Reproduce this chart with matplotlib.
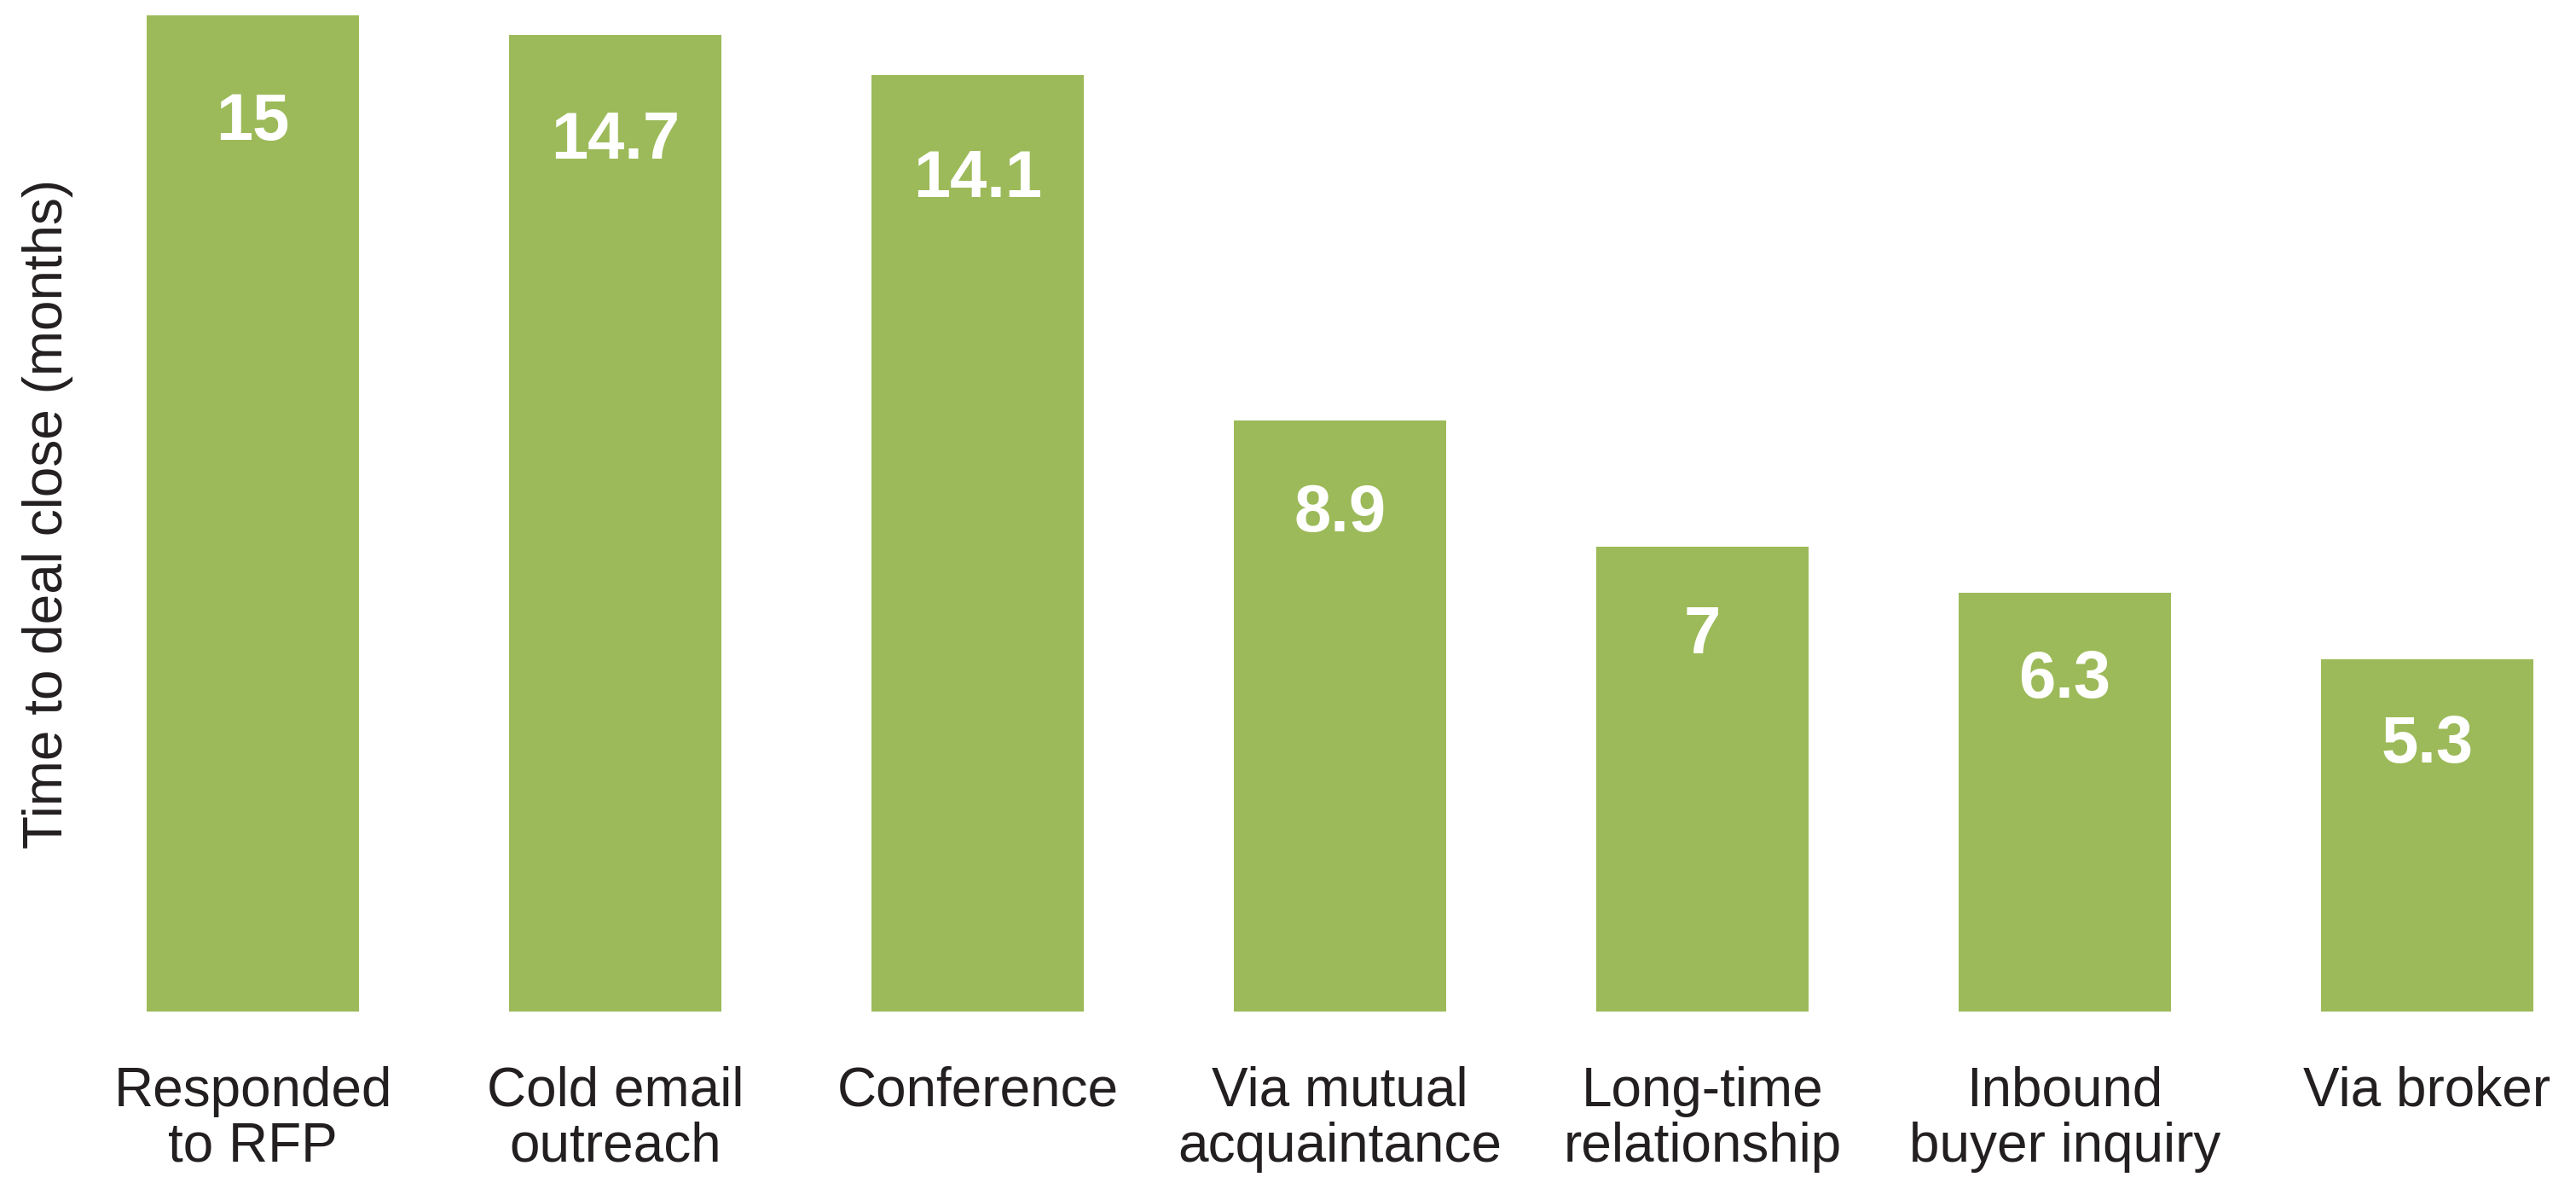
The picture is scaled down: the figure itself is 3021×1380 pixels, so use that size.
import matplotlib
matplotlib.use("Agg")
import matplotlib.pyplot as plt

categories = ["Responded\nto RFP", "Cold email\noutreach", "Conference",
              "Via mutual\nacquaintance", "Long-time\nrelationship",
              "Inbound\nbuyer inquiry", "Via broker"]
months = [15, 14.7, 14.1, 8.9, 7, 6.3, 5.3]
value_labels = ["15", "14.7", "14.1", "8.9", "7", "6.3", "5.3"]

bar_color = "#9cba59"
text_color = "#231f20"
plt.rcParams["font.family"] = ["Liberation Sans", "DejaVu Sans"]

fig = plt.figure(figsize=(30.21, 13.8), dpi=100)
ax = fig.add_axes([0, 0.1406, 1, 0.8464])

x = range(len(months))
ax.bar(x, months, width=0.586, color=bar_color)

# values inside the top of each bar (taller bars get a bit more room)
for i, v in enumerate(months):
    ax.annotate(value_labels[i], (i, v), xytext=(0, -(62 + 1.87 * v)),
                textcoords="offset points", ha="center", va="center",
                fontsize=56, fontweight="bold", color="white")

ax.set_xlim(-0.6976, 6.4106)
ax.set_ylim(0, 15)
ax.set_xticks(list(x))
ax.set_xticklabels(categories, fontsize=46, color=text_color, linespacing=1.1)
ax.tick_params(axis="x", length=0, pad=46)
ax.set_yticks([])
for s in ax.spines.values():
    s.set_visible(False)

fig.text(26 / 3021, 0.5638, "Time to deal close (months)", rotation=90,
         ha="left", va="center", fontsize=46, color=text_color)

fig.savefig("out.png", dpi=100)
